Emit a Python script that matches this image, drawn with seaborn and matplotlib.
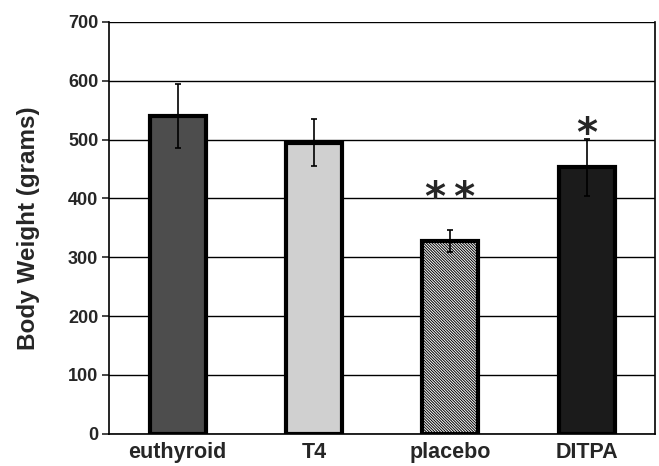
import matplotlib
matplotlib.use("Agg")
import matplotlib.pyplot as plt
import numpy as np
import pandas as pd
import seaborn as sns

# values
groups = ["euthyroid", "T4", "placebo", "DITPA"]
weights = [540, 495, 328, 453]
errors = [55, 40, 19, 48]
marks = ["", "", "*\u2009*", "*"]
mark_y = [0, 0, 380, 489]
bar_colors = ["#4d4d4d", "#d0d0d0", "#ffffff", "#1b1b1b"]

sns.set_style("white")
plt.rcParams["font.family"] = ["Liberation Sans", "DejaVu Sans"]
plt.rcParams["hatch.color"] = "#444444"
plt.rcParams["hatch.linewidth"] = 0.7

df = pd.DataFrame({"group": groups, "weight": weights})

fig = plt.figure(figsize=(6.59, 4.66), dpi=100)
ax = fig.add_axes([0.166, 0.069, 0.828, 0.884])

sns.barplot(data=df, x="group", y="weight", hue="group", palette=bar_colors,
            width=0.41, edgecolor="black", linewidth=3, errorbar=None,
            legend=False, ax=ax, zorder=3)

for i, p in enumerate(ax.patches):
    if groups[i] == "placebo":
        p.set_hatch("\\" * 12)

x = np.arange(len(groups))
ax.errorbar(x, weights, yerr=errors, fmt="none", ecolor="black",
            elinewidth=1.2, capsize=2.5, capthick=1.2, zorder=4)

for i, m in enumerate(marks):
    if m:
        ax.text(x[i], mark_y[i], m, ha="center", va="baseline",
                fontsize=29, fontweight="bold", family="DejaVu Sans")

ax.set_ylim(0, 700)
ax.set_xlim(-0.5, len(groups) - 0.5)
ax.set_yticks(range(0, 701, 100))
ax.yaxis.grid(True, color="black", linewidth=1.0, zorder=0)
ax.set_axisbelow(True)

ax.set_xticks(x)
ax.set_xticklabels(groups, fontsize=15.5, fontweight="bold")
ax.set_xticks(np.arange(-0.5, len(groups)), minor=True)
ax.tick_params(axis="x", which="major", length=0, pad=6)
ax.tick_params(axis="x", which="minor", length=6, width=1.2, direction="out")
ax.tick_params(axis="y", length=5, width=1.2, direction="out", labelsize=13, left=True, pad=3)
for lab in ax.get_yticklabels():
    lab.set_fontweight("bold")

for side in ["left", "bottom", "right"]:
    ax.spines[side].set_color("black")
    ax.spines[side].set_linewidth(1.2)
ax.spines["top"].set_visible(False)

ax.set_xlabel("")
ax.set_ylabel("Body Weight (grams)", fontsize=17.5, fontweight="bold", labelpad=20)

fig.savefig("out.png", dpi=100)
